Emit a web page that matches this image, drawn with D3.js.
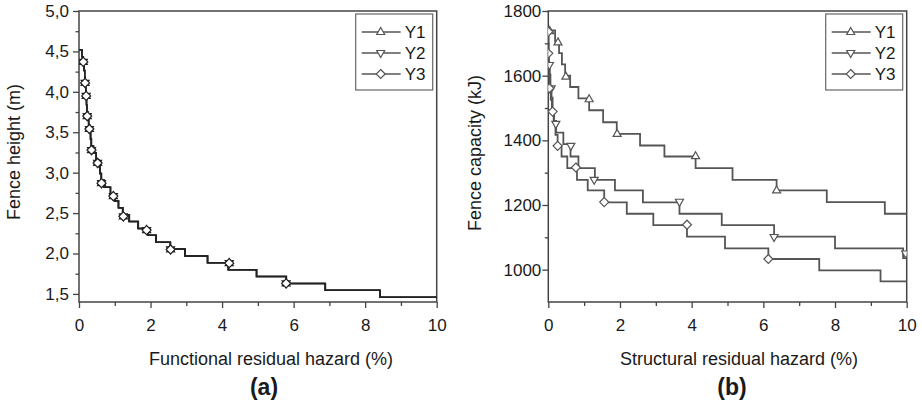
<!DOCTYPE html>
<html>
<head>
<meta charset="utf-8">
<script src="https://cdn.jsdelivr.net/npm/d3@7"></script>
<style>
  body { margin: 0; background: #fff; }
  text { font-family: "Liberation Sans", Arial, sans-serif; fill: #1a1a1a; }
</style>
</head>
<body>
<div id="chart"></div>
<script>
// series names
const seriesNames = ["Y1", "Y2", "Y3"];

// ---- panel (a): fence height (m) vs functional residual hazard (%) ----
// each level starts at the given hazard and runs to the next one
const aLevels = [4.52, 4.435, 4.35, 4.265, 4.18, 4.095, 4.01, 3.925, 3.84, 3.755,
  3.67, 3.585, 3.50, 3.415, 3.33, 3.245, 3.16, 3.075, 2.99, 2.905, 2.82, 2.735,
  2.65, 2.565, 2.48, 2.395, 2.31, 2.225, 2.14, 2.055, 1.97, 1.885, 1.80, 1.715,
  1.63, 1.545, 1.46];
const aY1Hazard = [0.0, 0.08, 0.12, 0.14, 0.16, 0.17, 0.19, 0.20, 0.21, 0.22,
  0.24, 0.27, 0.30, 0.32, 0.34, 0.40, 0.48, 0.55, 0.58, 0.62, 0.70, 0.88,
  1.00, 1.10, 1.22, 1.40, 1.65, 1.93, 2.15, 2.55, 2.96, 3.59, 4.17, 4.96,
  5.79, 6.88, 8.41];
const aY2Hazard = [0.0, 0.08, 0.12, 0.14, 0.16, 0.17, 0.19, 0.20, 0.21, 0.22,
  0.25, 0.27, 0.30, 0.33, 0.35, 0.41, 0.48, 0.55, 0.59, 0.63, 0.71, 0.88,
  1.00, 1.11, 1.23, 1.41, 1.66, 1.94, 2.16, 2.56, 2.97, 3.60, 4.18, 4.97,
  5.80, 6.89, 8.42];
const aY3Hazard = [0.0, 0.08, 0.12, 0.14, 0.16, 0.17, 0.19, 0.20, 0.21, 0.22,
  0.24, 0.27, 0.30, 0.32, 0.34, 0.40, 0.48, 0.55, 0.58, 0.62, 0.70, 0.88,
  1.00, 1.10, 1.22, 1.40, 1.65, 1.93, 2.15, 2.55, 2.96, 3.59, 4.17, 4.96,
  5.79, 6.88, 8.41];
// marker positions [hazard, height]
const aMarks = [[0.12, 4.37], [0.17, 4.11], [0.20, 3.95], [0.23, 3.70], [0.29, 3.54],
  [0.35, 3.28], [0.52, 3.12], [0.63, 2.87], [0.96, 2.71], [1.24, 2.46],
  [1.89, 2.29], [2.56, 2.05], [4.20, 1.88], [5.79, 1.63]];

// ---- panel (b): fence capacity (kJ) vs structural residual hazard (%) ----
const bY1Levels = [1740, 1705, 1670, 1635, 1600, 1565, 1530, 1493, 1456, 1420,
  1384, 1350, 1314, 1278, 1245, 1209, 1173];
const bY1Hazard = [0.0, 0.19, 0.30, 0.38, 0.47, 0.61, 0.84, 1.14, 1.53, 1.91,
  2.56, 3.24, 4.11, 5.14, 6.37, 7.77, 9.39];
const bY2Levels = [1640, 1604, 1568, 1532, 1496, 1460, 1424, 1388, 1350, 1314,
  1278, 1245, 1208, 1173, 1138, 1102, 1066, 1036];
const bY2Hazard = [0.02, 0.04, 0.06, 0.09, 0.12, 0.16, 0.22, 0.42, 0.62, 0.84,
  1.30, 1.86, 2.64, 3.66, 4.84, 6.30, 8.00, 9.90];
const bY3Levels = [1736, 1700, 1669, 1633, 1597, 1561, 1525, 1489, 1453, 1417,
  1383, 1350, 1314, 1278, 1245, 1208, 1173, 1138, 1102, 1066, 1033, 998, 964];
const bY3Hazard = [0.0, 0.01, 0.015, 0.02, 0.03, 0.04, 0.07, 0.10, 0.15, 0.20,
  0.26, 0.37, 0.53, 0.80, 1.10, 1.56, 2.19, 2.93, 3.87, 4.93, 6.14, 7.56, 9.27];
const bY1Marks = [[0.04, 1738], [0.27, 1703], [0.49, 1597], [1.14, 1527],
  [1.92, 1420], [4.11, 1351], [6.37, 1245]];
const bY2Marks = [[0.03, 1633], [0.08, 1561], [0.21, 1451], [0.63, 1383],
  [1.28, 1278], [3.66, 1210], [6.30, 1101], [9.97, 1050]];
const bY3Marks = [[0.0, 1736], [0.0, 1669], [0.03, 1561], [0.12, 1489],
  [0.26, 1383], [0.77, 1316], [1.56, 1209], [3.87, 1139], [6.14, 1033]];

// tick values
const xTicks = [0, 2, 4, 6, 8, 10];
const xMinor = [1, 3, 5, 7, 9];
const aYTicks = [1.5, 2.0, 2.5, 3.0, 3.5, 4.0, 4.5, 5.0];
const aYMinor = [1.75, 2.25, 2.75, 3.25, 3.75, 4.25, 4.75];
const bYTicks = [1000, 1200, 1400, 1600, 1800];
const bYMinor = [1100, 1300, 1500, 1700];

const width = 922, height = 406;
const svg = d3.select("#chart").append("svg")
  .attr("width", width).attr("height", height);

// marker shapes (up triangle, down triangle, diamond)
const markerPath = [
  "M0,-4.5L4,2.5L-4,2.5Z",
  "M0,4.5L4,-2.5L-4,-2.5Z",
  "M0,-4.5L4.5,0L0,4.5L-4.5,0Z"
];

function drawPanel(p) {
  const x = d3.scaleLinear().domain([0, 10]).range([p.left, p.right]);
  const y = d3.scaleLinear().domain(p.yDomain).range([302, 11]);
  const g = svg.append("g");

  g.append("clipPath").attr("id", p.id + "clip")
    .append("rect")
    .attr("x", p.left).attr("y", 11)
    .attr("width", p.right - p.left).attr("height", 291);

  // axes
  g.append("g").attr("transform", "translate(0,302)")
    .call(d3.axisBottom(x).tickValues(xTicks).tickSize(6).tickPadding(11).tickFormat(d3.format("d")));
  g.append("g").attr("transform", "translate(0,302)")
    .call(d3.axisBottom(x).tickValues(xMinor).tickSize(4).tickFormat(""));
  g.append("g").attr("transform", "translate(" + p.left + ",0)")
    .call(d3.axisLeft(y).tickValues(p.yTicks).tickSize(6).tickPadding(p.yPad).tickFormat(p.yFormat));
  g.append("g").attr("transform", "translate(" + p.left + ",0)")
    .call(d3.axisLeft(y).tickValues(p.yMinor).tickSize(3.5).tickFormat(""));
  g.selectAll(".domain").remove();
  g.selectAll(".tick line").attr("stroke", "#444").attr("stroke-width", 1.3);
  g.selectAll(".tick text")
    .style("font-family", "'Liberation Sans', Arial, sans-serif")
    .style("font-size", "17px").style("fill", "#1a1a1a");

  // frame
  g.append("rect")
    .attr("x", p.left).attr("y", 11)
    .attr("width", p.right - p.left).attr("height", 291)
    .attr("fill", "none").attr("stroke", "#444").attr("stroke-width", 1.5);

  // step lines
  const line = d3.line()
    .x(d => x(d[0])).y(d => y(d[1]))
    .curve(d3.curveStepAfter);
  const plot = g.append("g").attr("clip-path", "url(#" + p.id + "clip)");
  p.series.forEach((s, i) => {
    const pts = s.hazard.map((h, k) => [h, s.levels[k]]);
    pts.push([x.domain()[1], s.levels[s.levels.length - 1]]);
    plot.append("path")
      .datum(pts)
      .attr("d", line)
      .attr("fill", "none")
      .attr("stroke", p.lineColor)
      .attr("stroke-width", p.lineWidth);
  });
  p.series.forEach((s, i) => {
    plot.selectAll(null)
      .data(s.marks)
      .enter().append("path")
      .attr("d", markerPath[i])
      .attr("transform", d => "translate(" + x(d[0]) + "," + y(d[1]) + ")")
      .attr("fill", "#fff")
      .attr("stroke", p.lineColor)
      .attr("stroke-width", 1.2);
  });

  // legend
  const lg = g.append("g");
  lg.append("rect")
    .attr("x", p.right - 81).attr("y", 14)
    .attr("width", 77).attr("height", 76)
    .attr("fill", "#fff").attr("stroke", "#666").attr("stroke-width", 1.2);
  seriesNames.forEach((name, i) => {
    const ly = 32 + i * 21;
    lg.append("line")
      .attr("x1", p.right - 75).attr("x2", p.right - 36)
      .attr("y1", ly).attr("y2", ly)
      .attr("stroke", "#555").attr("stroke-width", 1.4);
    lg.append("path")
      .attr("d", markerPath[i])
      .attr("transform", "translate(" + (p.right - 56) + "," + ly + ")")
      .attr("fill", "#fff").attr("stroke", "#555").attr("stroke-width", 1.2);
    lg.append("text")
      .attr("x", p.right - 32).attr("y", ly + 6)
      .style("font-size", "17px")
      .text(name);
  });

  // titles
  g.append("text")
    .attr("transform", "translate(" + p.yTitleX + "," + p.yTitleY + ") rotate(-90)")
    .attr("text-anchor", "middle")
    .style("font-size", "18px")
    .text(p.yTitle);
  g.append("text")
    .attr("x", p.xTitleX).attr("y", 365)
    .attr("text-anchor", "middle")
    .style("font-size", "18px")
    .text(p.xTitle);
  g.append("text")
    .attr("x", p.xTitleX - 7).attr("y", 395)
    .attr("text-anchor", "middle")
    .style("font-size", "23px").style("font-weight", "bold")
    .text(p.label);
}

drawPanel({
  id: "a", left: 79, right: 436.7, yDomain: [1.4, 5.0],
  yTicks: aYTicks, yMinor: aYMinor, yPad: 4,
  yFormat: d => d.toFixed(1).replace(".", ","),
  lineColor: "#222", lineWidth: 1.5,
  series: [
    { levels: aLevels, hazard: aY1Hazard, marks: aMarks },
    { levels: aLevels, hazard: aY2Hazard, marks: aMarks },
    { levels: aLevels, hazard: aY3Hazard, marks: aMarks }
  ],
  yTitle: "Fence height (m)", yTitleX: 20, yTitleY: 152,
  xTitle: "Functional residual hazard (%)", xTitleX: 271,
  label: "(a)"
});

drawPanel({
  id: "b", left: 548.3, right: 906.7, yDomain: [900, 1800],
  yTicks: bYTicks, yMinor: bYMinor, yPad: 1,
  yFormat: d3.format("d"),
  lineColor: "#555", lineWidth: 1.8,
  series: [
    { levels: bY1Levels, hazard: bY1Hazard, marks: bY1Marks },
    { levels: bY2Levels, hazard: bY2Hazard, marks: bY2Marks },
    { levels: bY3Levels, hazard: bY3Hazard, marks: bY3Marks }
  ],
  yTitle: "Fence capacity (kJ)", yTitleX: 481, yTitleY: 153,
  xTitle: "Structural residual hazard (%)", xTitleX: 739,
  label: "(b)"
});
</script>
</body>
</html>
